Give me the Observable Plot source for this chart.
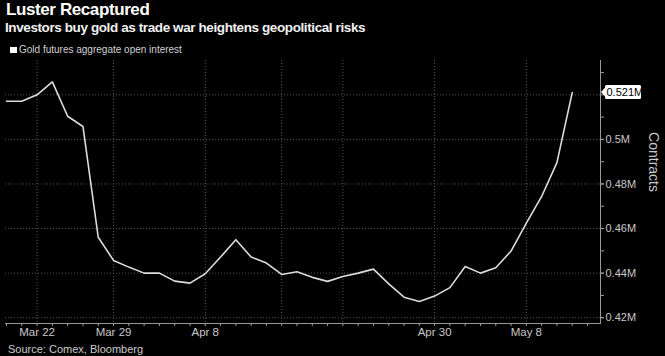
<!DOCTYPE html>
<html>
<head>
<meta charset="utf-8">
<script src="https://cdn.jsdelivr.net/npm/d3@7"></script>
<script src="https://cdn.jsdelivr.net/npm/@observablehq/plot@0.6"></script>
<style>
  html, body { margin: 0; padding: 0; background: #000; width: 665px; height: 356px; overflow: hidden; }
  body { position: relative; font-family: "Liberation Sans", Arial, sans-serif; }
  #title { position: absolute; left: 6px; top: 1px; font-size: 17px; line-height: 17px; font-weight: bold; color: #fff; letter-spacing: -0.4px; white-space: nowrap; }
  #subtitle { position: absolute; left: 5px; top: 21px; font-size: 13.5px; line-height: 13.5px; font-weight: bold; color: #f2f2f2; letter-spacing: -0.4px; white-space: nowrap; }
  #legend { position: absolute; left: 10px; top: 45px; font-size: 10px; line-height: 10px; color: #d0d0d0; white-space: nowrap; z-index: 2; }
  #legend .sw { position: absolute; left: 0; top: 1.5px; width: 6.5px; height: 6.5px; background: #fff; }
  #legend .lbl { position: absolute; left: 9px; top: 0; }
  #chart { position: absolute; left: 0; top: 50px; z-index: 1; }
  #source { position: absolute; left: 8px; top: 343px; font-size: 11px; line-height: 12px; color: #ccc; white-space: nowrap; }
</style>
</head>
<body>
<div id="title">Luster Recaptured</div>
<div id="subtitle">Investors buy gold as trade war heightens geopolitical risks</div>
<div id="chart"></div>
<div id="legend"><span class="sw"></span><span class="lbl">Gold futures aggregate open interest</span></div>
<div id="source">Source: Comex, Bloomberg</div>
<script>
// Trading days (2019)
const dates = ["Mar 20","Mar 21","Mar 22","Mar 25","Mar 26","Mar 27","Mar 28","Mar 29",
  "Apr 1","Apr 2","Apr 3","Apr 4","Apr 5","Apr 8","Apr 9","Apr 10","Apr 11","Apr 12",
  "Apr 15","Apr 16","Apr 17","Apr 18","Apr 22","Apr 23","Apr 24","Apr 25","Apr 26","Apr 29","Apr 30",
  "May 1","May 2","May 3","May 6","May 7","May 8","May 9","May 10","May 13"];
// Gold futures aggregate open interest, millions of contracts
const openInterest = [0.5171,0.5171,0.5200,0.5258,0.5104,0.5058,0.4561,0.4457,
  0.4427,0.4400,0.4400,0.4364,0.4355,0.4397,0.4472,0.4550,0.4472,0.4445,
  0.4394,0.4406,0.4381,0.4363,0.4385,0.4400,0.4418,0.4352,0.4292,0.4273,0.4297,
  0.4335,0.4430,0.4400,0.4424,0.4499,0.4624,0.4744,0.4896,0.5210];
const xTickLabels = ["Mar 22","Mar 29","Apr 8","Apr 30","May 8"];
const xGridDates = ["Mar 22","Mar 29","Apr 8","Apr 15","Apr 22","Apr 30","May 8"];
const yTickLabels = [0.42,0.44,0.46,0.48,0.50];
const yGrid = [0.42,0.44,0.46,0.48,0.50,0.52];
const yMinor = [0.42,0.43,0.44,0.45,0.46,0.47,0.48,0.49,0.50,0.51,0.52,0.53];
const yLabel = "Contracts";

const data = openInterest.map((v, i) => ({i, date: dates[i], v}));
const idx = d => dates.indexOf(d);
const dayTicks = d3.range(dates.length + 1);
const fmtM = d => `${parseFloat(d.toFixed(3))}M`;

const plot = Plot.plot({
  width: 665,
  height: 300,
  marginTop: 10,
  marginBottom: 27,
  marginLeft: 5,
  marginRight: 65,
  style: {background: "transparent", color: "#c8c8c8", fontFamily: "Liberation Sans, Arial, sans-serif", fontSize: "11px"},
  x: {type: "linear", domain: [-0.065, 38.85]},
  y: {domain: [0.4174, 0.5354]},
  marks: [
    Plot.gridY(yGrid, {stroke: "#555", strokeOpacity: 1, strokeDasharray: "1 2"}),
    Plot.gridX(xGridDates.map(idx), {stroke: "#555", strokeOpacity: 1, strokeDasharray: "1 2"}),
    Plot.frame({anchor: "bottom", stroke: "#9a9a9a"}),
    Plot.frame({anchor: "right", stroke: "#9a9a9a"}),
    Plot.axisX({ticks: dayTicks, tickSize: 3, tickFormat: () => "", stroke: "#9a9a9a", label: null}),
    Plot.axisX({ticks: xTickLabels.map(idx), tickSize: 0, tickPadding: 4, tickFormat: i => dates[i], fontSize: 11.5, fill: "#c8c8c8", label: null}),
    Plot.axisY({anchor: "right", ticks: yMinor, tickSize: 3, tickFormat: () => "", stroke: "#9a9a9a", label: null}),
    Plot.axisY({anchor: "right", ticks: yTickLabels, tickSize: 3, tickPadding: 2, tickFormat: fmtM, fontSize: 11, fill: "#c8c8c8", stroke: "#9a9a9a", label: null}),
    Plot.lineY(data, {x: "i", y: "v", stroke: "#dcdcdc", strokeWidth: 1.6}),
    Plot.text([yLabel], {frameAnchor: "right", dx: 53, rotate: 90, fontSize: 14, fill: "#c8c8c8"})
  ]
});
document.getElementById("chart").appendChild(plot);

// last-value tag on the right axis
const last = openInterest[openInterest.length - 1];
const yPos = plot.scale("y").apply(last);
const xPos = plot.scale("x").range[1];
const g = d3.select(plot).append("g").attr("transform", `translate(${xPos},${yPos})`);
g.append("polygon")
  .attr("points", "1,0 5.5,-5 5.5,5")
  .style("fill", "#ffffff");
g.append("rect")
  .attr("x", 5).attr("y", -7).attr("width", 36).attr("height", 14).attr("rx", 1.5)
  .style("fill", "#ffffff");
g.append("text")
  .attr("x", 6.5).attr("y", 0).attr("dy", "0.36em")
  .attr("text-anchor", "start")
  .style("text-anchor", "start")
  .style("font-size", "11px").style("fill", "#000000")
  .style("font-family", "Liberation Sans, Arial, sans-serif")
  .text(fmtM(last));
</script>
</body>
</html>
